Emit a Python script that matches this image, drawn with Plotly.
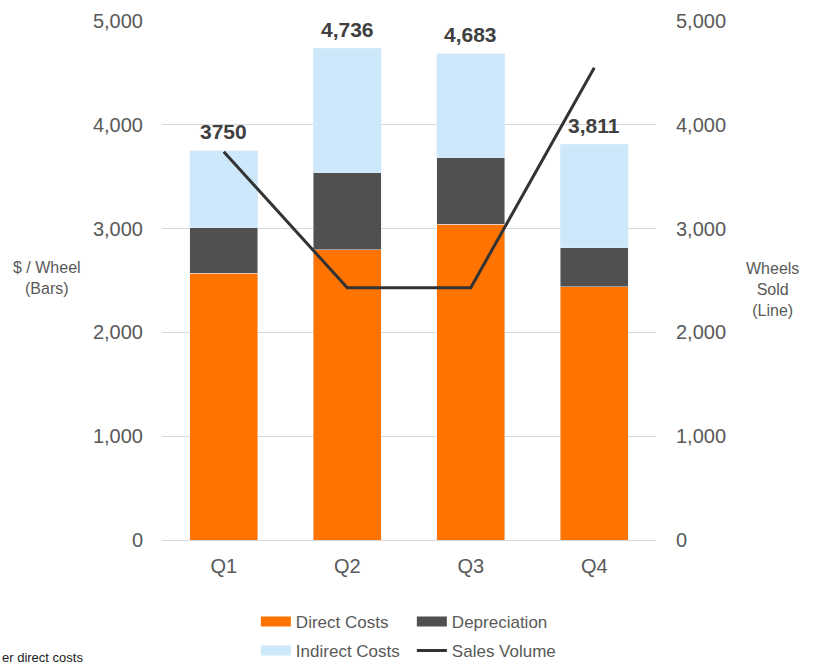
import plotly.graph_objects as go

quarters = ["Q1", "Q2", "Q3", "Q4"]
direct_costs = [2570, 2795, 3040, 2440]
depreciation = [440, 745, 645, 375]
indirect_costs = [740, 1196, 998, 996]
total_labels = ["3750", "4,736", "4,683", "3,811"]
sales_volume = [3740, 2430, 2430, 4550]
y_ticks = [0, 1000, 2000, 3000, 4000, 5000]
y_tick_text = ["0", "1,000", "2,000", "3,000", "4,000", "5,000"]

ORANGE = "#FF7300"
DARK = "#505050"
LIGHT = "#CCE8FA"
LINE = "#333333"
GRAY_TXT = "#595959"
FONT = "Liberation Sans, Arial, sans-serif"

fig = go.Figure()
fig.add_bar(x=quarters, y=direct_costs, marker_color=ORANGE, name="Direct Costs", showlegend=False)
fig.add_bar(x=quarters, y=depreciation, marker_color=DARK, name="Depreciation", showlegend=False)
fig.add_bar(x=quarters, y=indirect_costs, marker_color=LIGHT, name="Indirect Costs", showlegend=False)
fig.add_scatter(x=quarters, y=sales_volume, mode="lines", line=dict(color=LINE, width=3),
                name="Sales Volume", yaxis="y2", showlegend=False)

# legend entries (row 1 / row 2)
legend_rows = [("Direct Costs", ORANGE, 10, "legend"), ("Depreciation", DARK, 10, "legend"),
               ("Indirect Costs", LIGHT, 10, "legend2"), ("Sales Volume", LINE, 3, "legend2")]
for name, col, w, lg in legend_rows:
    fig.add_scatter(x=[None], y=[None], mode="lines", line=dict(color=col, width=w),
                    name=name, legend=lg, showlegend=True)

totals = [a + b + c for a, b, c in zip(direct_costs, depreciation, indirect_costs)]
for q, t, lab in zip(quarters, totals, total_labels):
    fig.add_annotation(x=q, y=t, text="<b>" + lab + "</b>", showarrow=False, yshift=19,
                       font=dict(size=21, color="#404040", family=FONT))

fig.add_annotation(xref="paper", yref="paper", x=(47 - 162) / 493, xanchor="center",
                   y=(540 - 278) / 519, yanchor="middle",
                   text="$ / Wheel<br>(Bars)", showarrow=False,
                   font=dict(size=16, color=GRAY_TXT, family=FONT), align="center")
fig.add_annotation(xref="paper", yref="paper", x=(771 - 162) / 493, xanchor="center",
                   y=(540 - 289) / 519, yanchor="middle",
                   text="Wheels<br>Sold<br>(Line)", showarrow=False,
                   font=dict(size=16, color=GRAY_TXT, family=FONT), align="center")
fig.add_annotation(xref="paper", yref="paper", x=(0 - 162) / 493, xanchor="left",
                   y=(540 - 657) / 519, yanchor="middle",
                   text="er direct costs", showarrow=False, font=dict(size=13, color="#222222", family=FONT))

fig.update_layout(
    width=814, height=666,
    margin=dict(l=162, r=158, t=21, b=126, autoexpand=False),
    barmode="stack", bargap=0.45,
    plot_bgcolor="white", paper_bgcolor="white",
    font=dict(family=FONT, color=GRAY_TXT),
    xaxis=dict(tickfont=dict(size=20, color=GRAY_TXT), showgrid=False, showline=True,
               linecolor="#d9d9d9", ticks="", ticklabelstandoff=8),
    yaxis=dict(range=[0, 5000], tickvals=y_ticks, ticktext=y_tick_text,
               tickfont=dict(size=20, color=GRAY_TXT), gridcolor="#d9d9d9", zeroline=False,
               ticks="", ticklabelstandoff=18),
    yaxis2=dict(range=[0, 5000], tickvals=y_ticks, ticktext=y_tick_text, overlaying="y", side="right",
                tickfont=dict(size=20, color=GRAY_TXT), showgrid=False, zeroline=False,
                ticks="", ticklabelstandoff=19),
    legend=dict(orientation="h", x=0.19, xanchor="left", y=(540 - 622) / 519, yanchor="middle",
                font=dict(size=17, color=GRAY_TXT, family=FONT), entrywidth=111,
                traceorder="normal", bgcolor="rgba(0,0,0,0)"),
    legend2=dict(orientation="h", x=0.19, xanchor="left", y=(540 - 651) / 519, yanchor="middle",
                 font=dict(size=17, color=GRAY_TXT, family=FONT), entrywidth=111,
                 traceorder="normal", bgcolor="rgba(0,0,0,0)"),
)

fig.write_html("out.html")
